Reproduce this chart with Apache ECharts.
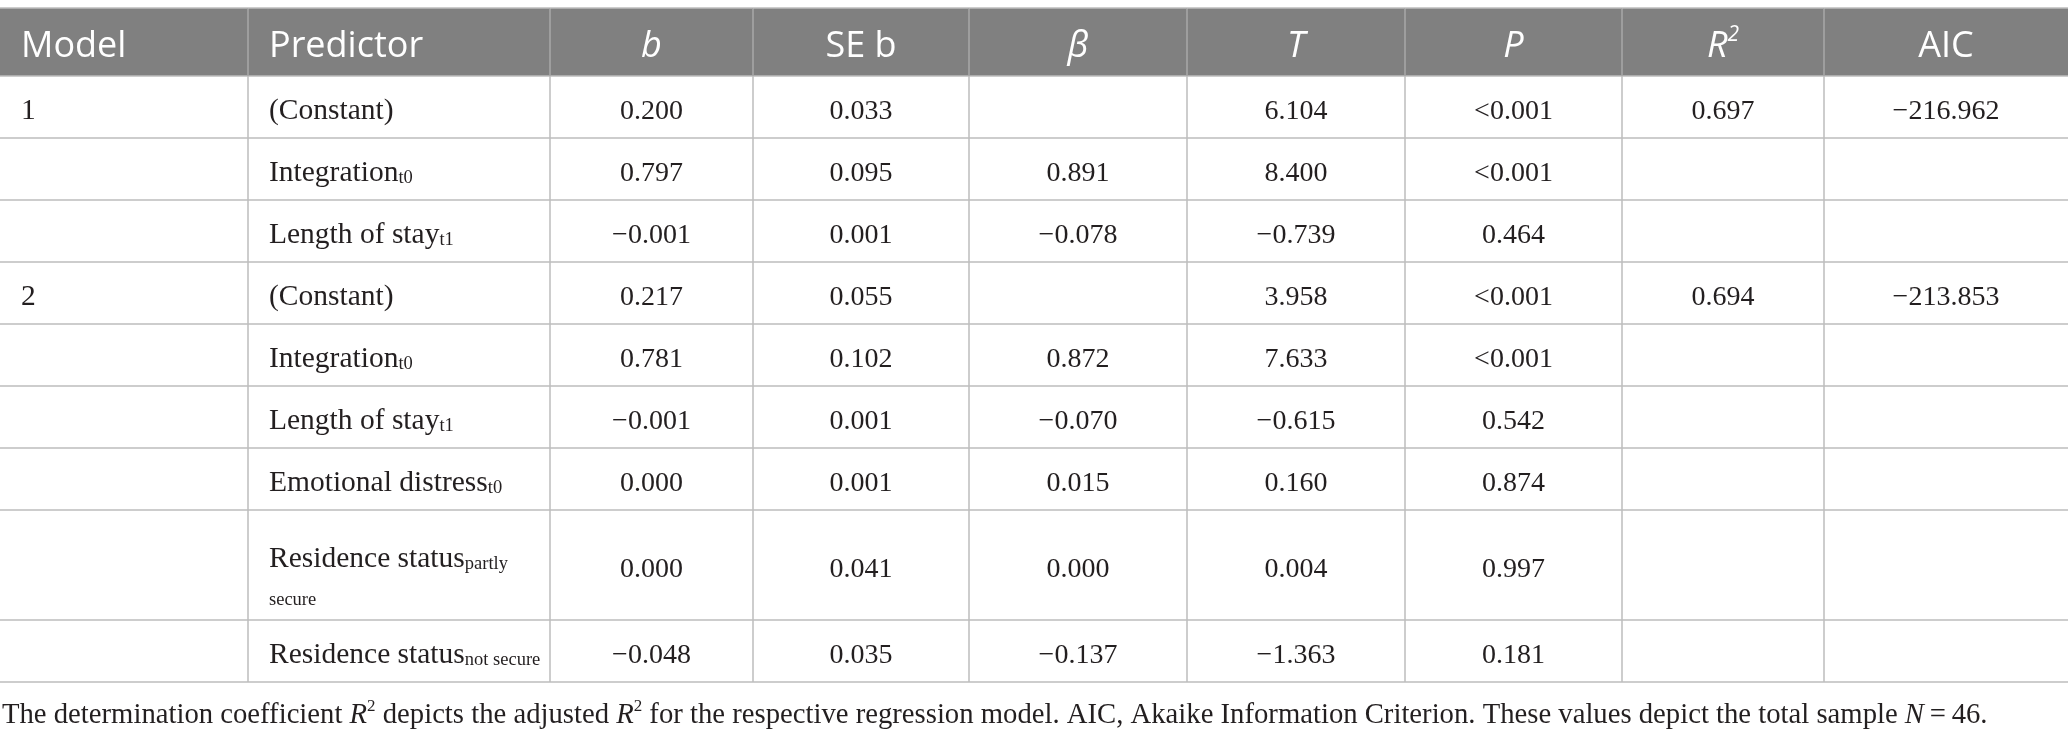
<!DOCTYPE html>
<html>
<head>
<meta charset="utf-8">
<script src="https://cdn.jsdelivr.net/npm/echarts@6/dist/echarts.min.js"></script>
<style>
  html, body { margin: 0; padding: 0; background: #fff; }
  #table { width: 2068px; height: 739px; }
</style>
</head>
<body>
<div id="table"></div>
<script>
// column headers ({hi|...} = italic, {hsup|...} = superscript)
const headers = ["Model", "Predictor", "{hi|b}", "SE b", "{hi|β}", "{hi|T}", "{hi|P}", "{hi|R}{hsup|2}", "AIC"];

// table body, one entry per row
const models = ["1", "", "", "2", "", "", "", "", ""];
const predictors = ["(Constant)", "Integration", "Length of stay", "(Constant)", "Integration",
  "Length of stay", "Emotional distress", "Residence status", "Residence status"];
const predictorSubs = ["", "t0", "t1", "", "t0", "t1", "t0", "partly\nsecure", "not secure"];
const bValues = [0.200, 0.797, -0.001, 0.217, 0.781, -0.001, 0.000, 0.000, -0.048];
const seB = [0.033, 0.095, 0.001, 0.055, 0.102, 0.001, 0.001, 0.041, 0.035];
const betas = [null, 0.891, -0.078, null, 0.872, -0.070, 0.015, 0.000, -0.137];
const tValues = [6.104, 8.400, -0.739, 3.958, 7.633, -0.615, 0.160, 0.004, -1.363];
const pValues = ["<0.001", "<0.001", 0.464, "<0.001", "<0.001", 0.542, 0.874, 0.997, 0.181];
const r2Values = [0.697, null, null, 0.694, null, null, null, null, null];
const aicValues = [-216.962, null, null, -213.853, null, null, null, null, null];

const footnote = "The determination coefficient {i|R}{sup|2} depicts the adjusted {i|R}{sup|2} for the respective " +
  "regression model. AIC, Akaike Information Criterion. These values depict the total sample {i|N}\u2009=\u200946.";

// layout (table units = px)
const colEdges = [0, 248, 550, 753, 969, 1187, 1405, 1622, 1824, 2068];
const rowHeights = [68, 62, 62, 62, 62, 62, 62, 62, 110, 62];
const rowEdges = [0];
rowHeights.forEach((h, i) => rowEdges.push(rowEdges[i] + h));

const fmt = (v) => {
  if (v == null) return "";
  if (typeof v === "string") return v;
  return (v < 0 ? "\u2212" : "") + Math.abs(v).toFixed(3);
};

function predictorText(i) {
  const sub = predictorSubs[i];
  if (!sub) return "{t|" + predictors[i] + "}";
  const parts = sub.split("\n");
  let s = "{t|" + predictors[i] + "}{s|" + parts[0] + "}";
  if (parts[1]) s += "\n{s2|" + parts[1] + "}";
  return s;
}

const bodyColumns = [
  (i) => "{t|" + models[i] + "}",
  predictorText,
  (i) => "{n|" + fmt(bValues[i]) + "}",
  (i) => "{n|" + fmt(seB[i]) + "}",
  (i) => "{n|" + fmt(betas[i]) + "}",
  (i) => "{n|" + fmt(tValues[i]) + "}",
  (i) => "{n|" + fmt(pValues[i]) + "}",
  (i) => "{n|" + fmt(r2Values[i]) + "}",
  (i) => "{n|" + fmt(aicValues[i]) + "}",
];

const cells = [];
for (let r = 0; r <= models.length; r++) {
  for (let c = 0; c < headers.length; c++) cells.push([c, r]);
}

const SERIF = "'Liberation Serif', 'Times New Roman', serif";
const SANS = "'Open Sans', 'Noto Sans', sans-serif";
const INK = "#231f20";
const LINE = "#bdbdbd";

const rich = {
  t: { fontFamily: SERIF, fontSize: 29.5, lineHeight: 36, fill: INK, verticalAlign: "bottom" },
  n: { fontFamily: SERIF, fontSize: 28, lineHeight: 36, fill: INK, verticalAlign: "bottom" },
  s: { fontFamily: SERIF, fontSize: 18.5, lineHeight: 20, fill: INK, verticalAlign: "bottom" },
  s2: { fontFamily: SERIF, fontSize: 18.5, lineHeight: 20, fill: INK, padding: [32, 0, 0, 0] },
  hi: { fontFamily: SANS, fontSize: 36, fontStyle: "italic", lineHeight: 44, fill: "#fff" },
  hsup: { fontFamily: SANS, fontSize: 21, fontStyle: "italic", lineHeight: 22, fill: "#fff", verticalAlign: "top" },
};

function renderCell(params, api) {
  const c = api.value(0);
  const r = api.value(1);
  const p0 = api.coord([colEdges[c], rowEdges[r]]);
  const p1 = api.coord([colEdges[c + 1], rowEdges[r + 1]]);
  const header = r === 0;
  const leftAligned = c < 2;
  const children = [
    {
      type: "rect", z2: 0,
      shape: { x: p0[0], y: p0[1], width: p1[0] - p0[0], height: p1[1] - p0[1] },
      style: { fill: header ? "#808080" : "#fff" },
    },
    {
      type: "line", z2: 10,
      shape: { x1: p0[0], y1: p1[1], x2: p1[0], y2: p1[1] },
      style: { stroke: LINE, lineWidth: 1.5 },
    },
    {
      type: "text", z2: 20,
      style: {
        text: header ? headers[c] : bodyColumns[c](r - 1),
        x: leftAligned ? p0[0] + 21 : (p0[0] + p1[0]) / 2,
        y: (p0[1] + p1[1]) / 2 + (header ? 5 : 1),
        align: leftAligned ? "left" : "center",
        verticalAlign: "middle",
        fontFamily: header ? SANS : SERIF,
        fontSize: header ? 36 : 28,
        lineHeight: header ? 44 : 36,
        fill: header ? "#fff" : INK,
        rich: rich,
      },
    },
  ];
  if (c > 0) {
    children.push({
      type: "line", z2: 10,
      shape: { x1: p0[0], y1: p0[1], x2: p0[0], y2: p1[1] },
      style: { stroke: header ? "#a9a9a9" : LINE, lineWidth: 1.5 },
    });
  }
  if (header) {
    children.push({
      type: "line", z2: 10,
      shape: { x1: p0[0], y1: p0[1], x2: p1[0], y2: p0[1] },
      style: { stroke: LINE, lineWidth: 1.5 },
    });
  }
  return { type: "group", children: children };
}

const chart = echarts.init(document.getElementById("table"));
chart.setOption({
  animation: false,
  title: {
    text: footnote,
    left: 2,
    top: 698,
    padding: 0,
    textStyle: {
      fontFamily: SERIF, fontSize: 28.7, fontWeight: "normal", color: INK, lineHeight: 34,
      rich: {
        i: { fontFamily: SERIF, fontSize: 28.7, fontStyle: "italic", color: INK, lineHeight: 34 },
        sup: { fontFamily: SERIF, fontSize: 17, color: INK, lineHeight: 18, verticalAlign: "top" },
      },
    },
  },
  grid: { left: 0, right: 0, top: 8, bottom: 57 },
  xAxis: { type: "value", min: 0, max: colEdges[colEdges.length - 1], show: false },
  yAxis: { type: "value", min: 0, max: rowEdges[rowEdges.length - 1], inverse: true, show: false },
  series: [
    {
      type: "custom",
      coordinateSystem: "cartesian2d",
      clip: false,
      silent: true,
      data: cells,
      renderItem: renderCell,
    },
  ],
});
</script>
</body>
</html>
